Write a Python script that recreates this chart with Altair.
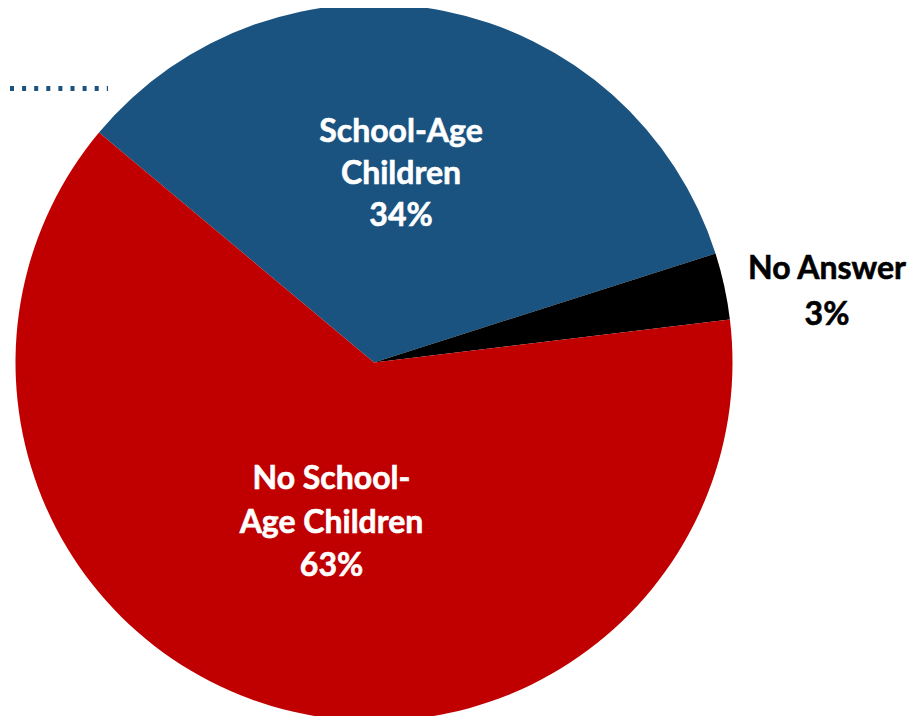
import altair as alt
import pandas as pd

categories = ["School-Age Children", "No Answer", "No School-Age Children"]
values = [34, 3, 63]
colors = ["#1A5380", "#000000", "#C00000"]
order_idx = [0, 1, 2]

label_blue = ["School-Age", "Children", "34%"]
label_black = ["No Answer", "3%"]
label_red = ["No School-", "Age Children", "63%"]

df = pd.DataFrame({"category": categories, "value": values, "idx": order_idx})

W, H = 901, 708
CX, CY, R = 366, 354.5, 358.5
start = -0.8744
TWO_PI = 6.283185307

pie = alt.Chart(df).mark_arc(outerRadius=R, stroke=None).encode(
    theta=alt.Theta("value:Q", stack=True, scale=alt.Scale(range=[start, start + TWO_PI])),
    color=alt.Color("category:N", scale=alt.Scale(domain=categories, range=colors), legend=None),
    order=alt.Order("idx:Q"),
    x=alt.value(CX),
    y=alt.value(CY),
)

one = pd.DataFrame({"a": [0]})

dotted = alt.Chart(one).mark_rule(
    color="#1A5380", strokeWidth=5, strokeDash=[4, 8.1], strokeCap="butt"
).encode(x=alt.value(2), x2=alt.value(100), y=alt.value(80.5))


def label(lines, x, y, color, lh):
    d = pd.DataFrame({"t": ["\n".join(lines)]})
    return alt.Chart(d).mark_text(
        font="Lato", fontWeight="bold", fontSize=32, color=color,
        stroke=color, strokeWidth=0.6,
        align="center", baseline="middle", lineBreak="\n", lineHeight=lh,
    ).encode(text="t:N", x=alt.value(x), y=alt.value(y))


t1 = label(label_blue, 393, 124, "white", 42)
t2 = label(label_black, 819, 260.5, "black", 46)
t3 = label(label_red, 323.5, 471, "white", 43.5)

chart = alt.layer(pie, dotted, t1, t2, t3).properties(
    width=W, height=H, padding=0, autosize=alt.AutoSizeParams(type="none")
).configure_view(stroke=None)

chart.save("out.html", embed_options={"renderer": "svg", "actions": False})
